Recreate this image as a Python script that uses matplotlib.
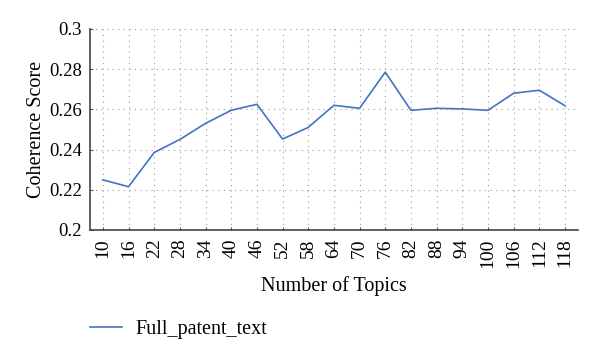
import matplotlib.pyplot as plt

topics = [10, 16, 22, 28, 34, 40, 46, 52, 58, 64, 70, 76, 82, 88, 94, 100, 106, 112, 118]
coherence = [0.2249, 0.2215, 0.2385, 0.2450, 0.2530, 0.2595, 0.2625, 0.2452, 0.2510,
             0.2620, 0.2605, 0.2785, 0.2595, 0.2605, 0.2602, 0.2595, 0.2680, 0.2695, 0.2618]

plt.rcParams['font.family'] = ['Liberation Serif', 'DejaVu Serif']

fig = plt.figure(figsize=(6, 3.57), dpi=100)
ax = fig.add_axes([0.15, 0.356, 0.813, 0.563])

x = list(range(len(topics)))
ax.plot(x, coherence, color='#4472C4', linewidth=1.2, label='Full_patent_text')

ax.set_xlim(-0.5, len(topics) - 0.5)
ax.set_ylim(0.2, 0.3)
ax.set_xticks(x)
ax.set_xticklabels([str(t) for t in topics], rotation=90, fontsize=14)
ax.set_yticks([0.2, 0.22, 0.24, 0.26, 0.28, 0.3])
ax.set_yticklabels(['0.2', '0.22', '0.24', '0.26', '0.28', '0.3'], fontsize=13.5)
ax.tick_params(axis='both', direction='in', length=2.5, color='#555555', pad=6)

ax.grid(True, linestyle=(0, (1, 4)), color='#999999', linewidth=0.8)
for s in ['top', 'right']:
    ax.spines[s].set_visible(False)
for s in ['left', 'bottom']:
    ax.spines[s].set_color('#444444')
    ax.spines[s].set_linewidth(1.2)

ax.set_xlabel('Number of Topics', fontsize=14.5, labelpad=6)
ax.set_ylabel('Coherence Score', fontsize=14.5, labelpad=2)

fig.legend(loc='lower left', bbox_to_anchor=(0.12, 0.0), frameon=False, fontsize=14.5,
           handlelength=1.6, handletextpad=0.65)

fig.savefig('out.png', dpi=100, facecolor='white')
